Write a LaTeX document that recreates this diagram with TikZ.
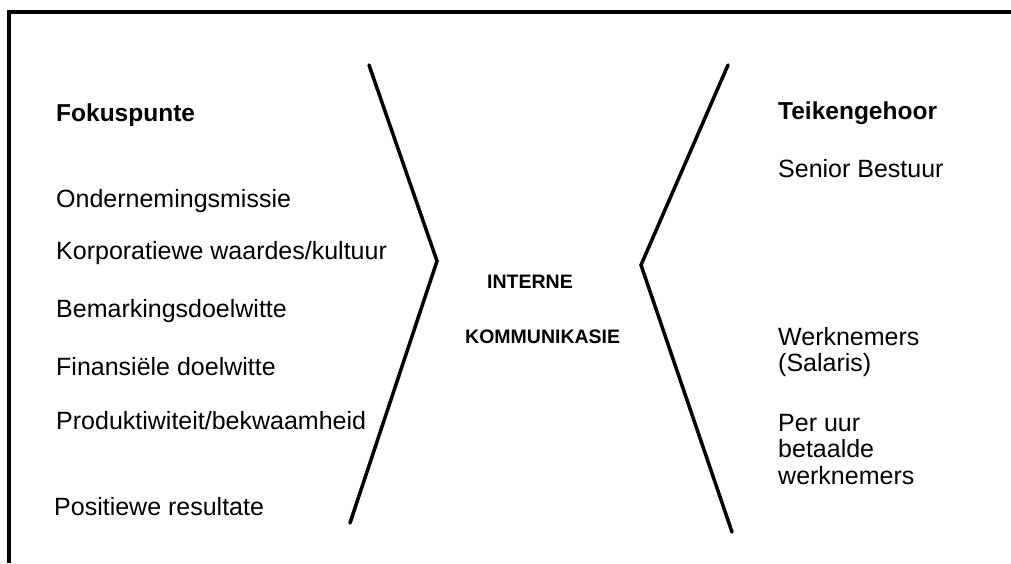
\documentclass[tikz,border=0pt]{standalone}
\usepackage{fontspec}
\setmainfont{Liberation Sans}
\begin{document}
\begin{tikzpicture}[x=1pt,y=-1pt,
  lbl/.style={anchor=base west,inner sep=0pt,font=\fontsize{25}{27}\selectfont},
  head/.style={lbl,font=\fontsize{24.5}{27}\selectfont\bfseries},
  mid/.style={anchor=base west,inner sep=0pt,font=\fontsize{19.5}{21}\selectfont\bfseries},
  stroke/.style={line width=3.5pt,line join=miter,line cap=round}]
\useasboundingbox (0,0) rectangle (1011,563);
% frame (top and left only)
\coordinate (fTR) at (1011,12);
\coordinate (fTL) at (9,12);
\coordinate (fBL) at (9,563);
\draw[line width=4pt] (fTR) -- (fTL) -- (fBL);
% chevrons
\coordinate (lT) at (369,65);
\coordinate (lV) at (437,261);
\coordinate (lB) at (350,523);
\coordinate (rT) at (728,65);
\coordinate (rV) at (641,265);
\coordinate (rB) at (732,532);
\draw[stroke] (lT) -- (lV) -- (lB);
\draw[stroke] (rT) -- (rV) -- (rB);
% left column
\node[head] (fok) at (56,121) {Fokuspunte};
\node[lbl] (ond) at (56,207) {Ondernemingsmissie};
\node[lbl] (kor) at (56,259) {Korporatiewe waardes/kultuur};
\node[lbl] (bem) at (56,317) {Bemarkingsdoelwitte};
\node[lbl] (fin) at (56,375) {Finansiële doelwitte};
\node[lbl] (pro) at (56,429) {Produktiwiteit/bekwaamheid};
\node[lbl] (pos) at (54,515) {Positiewe resultate};
% centre
\node[mid] (int) at (487,288) {INTERNE};
\node[mid] (kom) at (465,343) {KOMMUNIKASIE};
% right column
\node[head] (tei) at (778,119) {Teikengehoor};
\node[lbl] (sen) at (778,177) {Senior Bestuur};
\node[lbl] (wer) at (778,345) {Werknemers};
\node[lbl] (sal) at (778,371) {(Salaris)};
\node[lbl] (per) at (778,431) {Per uur};
\node[lbl] (bet) at (778,457) {betaalde};
\node[lbl] (wrk) at (778,484) {werknemers};
\end{tikzpicture}
\end{document}
